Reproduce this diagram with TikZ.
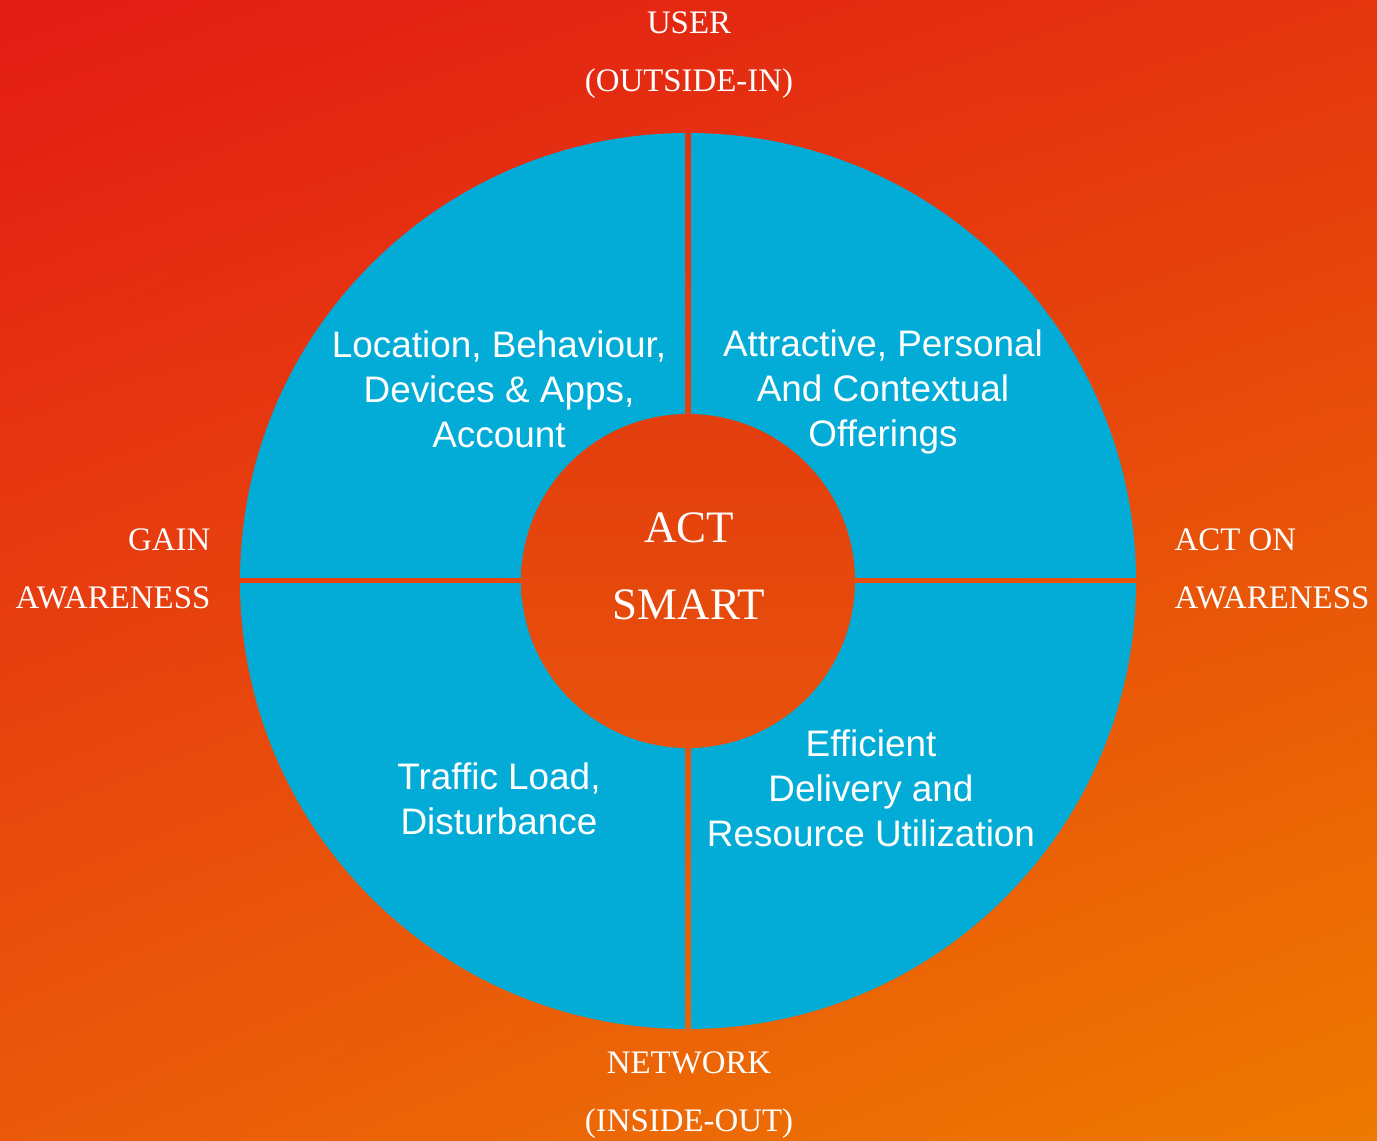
\documentclass[tikz,border=0pt]{standalone}
\usepackage{fontspec}
\usetikzlibrary{shadings}
\setmainfont{Liberation Serif}
\newfontfamily\quadfont{Liberation Sans}
\definecolor{bgtl}{HTML}{E31B15}
\definecolor{bgtr}{HTML}{E4350F}
\definecolor{bgbl}{HTML}{EA5A0A}
\definecolor{bgbr}{HTML}{EE7A00}
\definecolor{ringblue}{HTML}{03ACD6}
\definecolor{hubtop}{HTML}{E33E0E}
\definecolor{hubbot}{HTML}{E8520B}
\begin{document}
\begin{tikzpicture}[
  outerlabel/.style={text=white, inner sep=0pt, font=\fontsize{9.35}{16.4}\selectfont},
  quadtext/.style={text=white, inner sep=0pt, align=center, font=\quadfont\fontsize{10.5}{12.8}\selectfont},
  hubtext/.style={text=white, inner sep=0pt, align=center, font=\fontsize{12.8}{21.9}\selectfont}
]
\shade[upper left=bgtl, upper right=bgtr, lower left=bgbl, lower right=bgbr] (0,0) rectangle (13.77,11.41);
\coordinate (c) at (6.88,5.60);
\foreach \sx/\sy in {1/1,-1/1,-1/-1,1/-1} {
  \begin{scope}
    \clip ([shift={(\sx*0.03,\sy*0.03)}]c) rectangle +(\sx*5,\sy*5);
    \fill[ringblue] (c) circle (4.48);
  \end{scope}
}
\shade[top color=hubtop, bottom color=hubbot] (c) circle (1.67);
\node[hubtext] (hub) at (6.89,5.745) {ACT\\SMART};
\node[quadtext] (userside) at (4.99,7.52) {Location, Behaviour,\\Devices \& Apps,\\Account};
\node[quadtext] (offers) at (8.83,7.49) {Attractive, Personal\\And Contextual\\Offerings};
\node[quadtext] (netside) at (4.99,3.42) {Traffic Load,\\Disturbance};
\node[quadtext] (delivery) at (8.71,3.53) {Efficient\\Delivery and\\Resource Utilization};
\node[outerlabel, align=center] (user) at (6.89,10.86) {USER\\(OUTSIDE-IN)};
\node[outerlabel, align=center] (network) at (6.89,0.46) {NETWORK\\(INSIDE-OUT)};
\node[outerlabel, align=right, anchor=east] (gain) at (2.11,5.72) {GAIN\\AWARENESS};
\node[outerlabel, align=left, anchor=west] (acton) at (11.74,5.72) {ACT ON\\AWARENESS};
\end{tikzpicture}
\end{document}
